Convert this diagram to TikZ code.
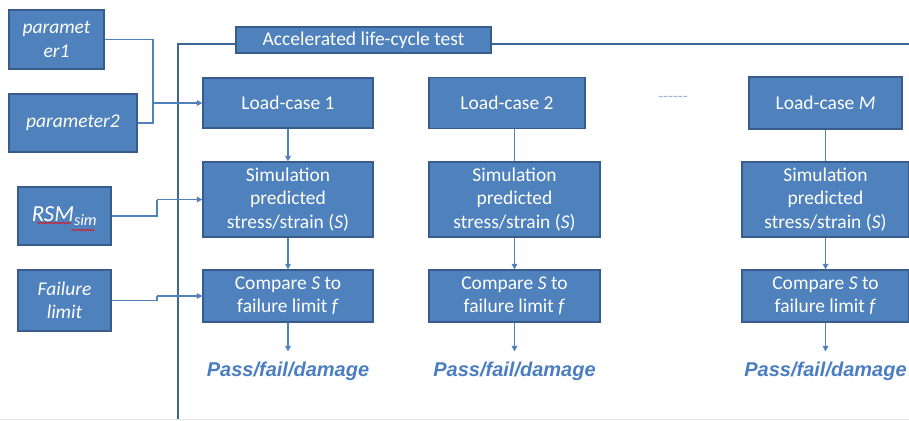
\documentclass[tikz,border=0pt]{standalone}
\usepackage{fontspec}
\setmainfont{Carlito}
\newfontfamily\arialfont{Liberation Sans}
\usetikzlibrary{arrows.meta,decorations.pathmorphing}
\definecolor{boxfill}{HTML}{4F81BD}
\definecolor{boxline}{HTML}{385D8A}
\definecolor{frameblue}{HTML}{3C6496}
\definecolor{linkblue}{HTML}{4F81BD}
\definecolor{passblue}{HTML}{4A7EC0}
\definecolor{dashgrey}{HTML}{9FB4CF}
\begin{document}
\begin{tikzpicture}[x=1pt,y=-1pt,
  box/.style={draw=boxline, line width=1.2pt, fill=boxfill, text=white, align=center,
    inner sep=0pt, font=\fontsize{19.5}{23.5}\selectfont},
  inbox/.style={box, font=\fontsize{19.5}{23.5}\selectfont\itshape},
  link/.style={draw=linkblue, line width=1.3pt},
  arr/.style={link, -{Triangle[length=5.5pt,width=5.5pt]}},
  passtext/.style={text=passblue, font=\arialfont\fontsize{20}{22}\selectfont\bfseries\itshape,
    inner xsep=0pt, inner ysep=10pt},
  frameline/.style={draw=frameblue, line width=2pt}]
\useasboundingbox (0,0) rectangle (909,420);

% frame
\node[box, minimum width=255pt, minimum height=26pt, font=\fontsize{19.5}{22}\selectfont] (title) at (363.5,40) {Accelerated life-cycle test};
\coordinate (ftl) at (178,44);
\coordinate (fbl) at (178,420);
\coordinate (ftr) at (909,44);
\draw[frameline] (fbl) -- (ftl) -- (ftl -| title.west);
\draw[frameline] (ftr -| title.east) -- (ftr);
\coordinate (bl) at (0,419.5);
\coordinate (br) at (909,419.5);
\draw[draw=black!10, line width=1pt] (bl) -- (br);

% input boxes
\node[inbox, minimum width=95pt, minimum height=59pt] (p1) at (56.5,39.5) {paramet\\er1};
\node[inbox, minimum width=128pt, minimum height=58pt] (p2) at (73,123) {parameter2};
\node[inbox, minimum width=93pt, minimum height=58pt, font=\fontsize{23}{26}\selectfont\itshape] (rsm) at (64.5,216) {RSM\textsubscript{sim}};
\node[inbox, minimum width=93pt, minimum height=61pt] (fl) at (64.5,300.5) {Failure\\limit};
\coordinate (w1a) at ([shift={(-27,7)}]rsm.center);
\coordinate (w1b) at ([shift={(7,7)}]rsm.center);
\coordinate (w2a) at ([shift={(7,14)}]rsm.center);
\coordinate (w2b) at ([shift={(30,14)}]rsm.center);
\draw[red, line width=0.5pt, decorate, decoration={snake, amplitude=0.7pt, segment length=2.5pt}] (w1a) -- (w1b);
\draw[red, line width=0.5pt, decorate, decoration={snake, amplitude=0.7pt, segment length=2.5pt}] (w2a) -- (w2b);

% column 1
\node[box, minimum width=170pt, minimum height=50pt] (lc1) at (288,103) {Load-case 1};
\node[box, minimum width=170pt, minimum height=75pt] (sim1) at (288,199.5) {Simulation\\predicted\\stress/strain (\textit{S})};
\node[box, minimum width=170pt, minimum height=52pt] (cmp1) at (288,296) {Compare \textit{S} to\\failure limit \textit{f}};
\node[passtext] (pass1) at (288,371) {Pass/fail/damage};

% column 2
\node[box, minimum width=156pt, minimum height=51pt] (lc2) at (507,103) {Load-case 2};
\node[box, minimum width=171pt, minimum height=75pt] (sim2) at (514.5,199.5) {Simulation\\predicted\\stress/strain (\textit{S})};
\node[box, minimum width=171pt, minimum height=52pt] (cmp2) at (514.5,296) {Compare \textit{S} to\\failure limit \textit{f}};
\node[passtext] (pass2) at (514.5,371) {Pass/fail/damage};

% dots
\node[text=dashgrey, font=\fontsize{16}{18}\selectfont, inner sep=0pt] (dots) at (673,99) {{-}{-}{-}{-}{-}{-}};

% column M
\node[box, minimum width=153pt, minimum height=52pt] (lcM) at (825.5,103) {Load-case \textit{M}};
\node[box, minimum width=167pt, minimum height=75pt] (simM) at (825.5,199.5) {Simulation\\predicted\\stress/strain (\textit{S})};
\node[box, minimum width=167pt, minimum height=52pt] (cmpM) at (825.5,296) {Compare \textit{S} to\\failure limit \textit{f}};
\node[passtext] (passM) at (825.5,371) {Pass/fail/damage};

% input connectors
\coordinate (j1) at (153,103);
\coordinate (j2) at (157,199.5);
\coordinate (j3) at (157,296);
\draw[link] (p1.east) -| (j1);
\draw[link] (p2.east) -| (j1);
\draw[arr] (j1) -- (lc1.west);
\draw[link] (rsm.east) -| (j2);
\draw[arr] (j2) -- (sim1.west);
\draw[link] (fl.east) -| (j3);
\draw[arr] (j3) -- (cmp1.west);

% column connectors
\draw[arr] (lc1.south) -- (sim1.north);
\draw[arr] (sim1.south) -- (cmp1.north);
\draw[arr] (cmp1.south) -- (pass1.north);

\draw[link] (lc2.south -| sim2.north) -- (sim2.north);
\draw[arr] (sim2.south) -- (cmp2.north);
\draw[arr] (cmp2.south) -- (pass2.north);

\draw[link] (lcM.south) -- (simM.north);
\draw[arr] (simM.south) -- (cmpM.north);
\draw[arr] (cmpM.south) -- (passM.north);
\end{tikzpicture}
\end{document}
